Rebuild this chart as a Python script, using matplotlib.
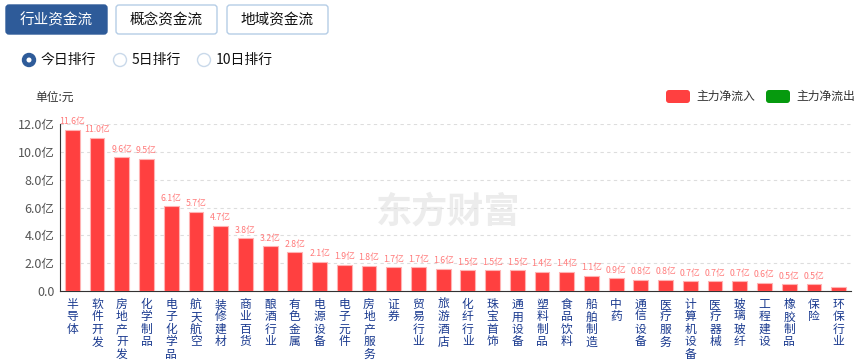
import matplotlib
matplotlib.use('Agg')
import matplotlib.pyplot as plt
from matplotlib.patches import FancyBboxPatch, Circle

plt.rcParams['font.family'] = ['Noto Sans CJK SC', 'DejaVu Sans']

names = ['半导体', '软件开发', '房地产开发', '化学制品', '电子化学品', '航天航空', '装修建材',
         '商业百货', '酿酒行业', '有色金属', '电源设备', '电子元件', '房地产服务', '证券',
         '贸易行业', '旅游酒店', '化纤行业', '珠宝首饰', '通用设备', '塑料制品', '食品饮料',
         '船舶制造', '中药', '通信设备', '医疗服务', '计算机设备', '医疗器械', '玻璃玻纤',
         '工程建设', '橡胶制品', '保险', '环保行业']
inflow = [11.6, 11.0, 9.6, 9.5, 6.1, 5.7, 4.7, 3.8, 3.2, 2.8, 2.1, 1.9, 1.8, 1.7, 1.7, 1.6,
          1.5, 1.5, 1.5, 1.4, 1.4, 1.1, 0.9, 0.8, 0.8, 0.7, 0.7, 0.7, 0.6, 0.5, 0.5, 0.3]
show_label = [True] * 31 + [False]
yticks = [0, 2, 4, 6, 8, 10, 12]
ytick_labels = ['0.0', '2.0亿', '4.0亿', '6.0亿', '8.0亿', '10.0亿', '12.0亿']

W, H = 863, 363
fig = plt.figure(figsize=(W / 100, H / 100), dpi=100)

# overlay in pixel coords for the page controls
ui = fig.add_axes([0, 0, 1, 1])
ui.set_xlim(0, W)
ui.set_ylim(H, 0)
ui.axis('off')

tabs = [('行业资金流', 6, True), ('概念资金流', 116, False), ('地域资金流', 227, False)]
for txt, x0, active in tabs:
    ui.add_patch(FancyBboxPatch((x0, 5), 101, 29, boxstyle='round,pad=0,rounding_size=3',
                                fc='#2e5b99' if active else 'white',
                                ec='#2e5b99' if active else '#b5cde6', lw=1))
    ui.text(x0 + 50.5, 20, txt, ha='center', va='center', fontsize=10.5,
            color='white' if active else '#111111')

radios = [('今日排行', 29, True), ('5日排行', 120, False), ('10日排行', 204, False)]
for txt, cx, on in radios:
    if on:
        ui.add_patch(Circle((cx, 60), 6.5, fc='#2e5b99', ec='#2e5b99'))
        ui.add_patch(Circle((cx, 60), 2.5, fc='white', ec='none'))
    else:
        ui.add_patch(Circle((cx, 60), 6.5, fc='white', ec='#c9d9ea', lw=1))
    ui.text(cx + 12, 60, txt, ha='left', va='center', fontsize=10, color='#111111')

ui.text(35, 97, '单位:元', ha='left', va='center', fontsize=8.5, color='#333333')

for x0, c, txt in [(666, '#ff4040', '主力净流入'), (766, '#069a0e', '主力净流出')]:
    ui.add_patch(FancyBboxPatch((x0, 90), 24, 13, boxstyle='round,pad=0,rounding_size=3',
                                fc=c, ec='none'))
    ui.text(x0 + 30, 96.5, txt, ha='left', va='center', fontsize=8.5, color='#333333')

# watermark
ui.text(448, 212, '东方财富', ha='center', va='center', fontsize=26, fontweight='bold',
        color='#ececec', zorder=0)

ax = fig.add_axes([60 / W, 1 - 291 / H, (851 - 60) / W, (291 - 124) / H])
x = range(len(names))
ax.bar(x, inflow, width=0.6, color='#ff4040', edgecolor='#ffb3b3', linewidth=0.8, zorder=3)
for i, v in enumerate(inflow):
    if show_label[i]:
        ax.text(i, v + 0.25, f'{v:.1f}亿', ha='center', va='bottom', fontsize=6.3,
                color='#ff7a7a')

ax.set_xlim(-0.5, len(names) - 0.5)
ax.set_ylim(0, 12)
ax.set_yticks(yticks)
ax.set_yticklabels(ytick_labels, fontsize=9, color='#555555')
ax.set_xticks(list(x))
ax.set_xticklabels(['\n'.join(n) for n in names], fontsize=8.5, color='#1a3a8f',
                   linespacing=0.95, va='top')
ax.tick_params(axis='both', length=0, pad=4)
ax.tick_params(axis='x', pad=5)
ax.yaxis.grid(True, linestyle=(0, (3, 3)), color='#dddddd', linewidth=0.8, zorder=0)
ax.set_axisbelow(True)
for s in ['top', 'right']:
    ax.spines[s].set_visible(False)
ax.spines['left'].set_color('#333333')
ax.spines['bottom'].set_color('#333333')
ax.patch.set_alpha(0)

fig.savefig('out.png', dpi=100)
